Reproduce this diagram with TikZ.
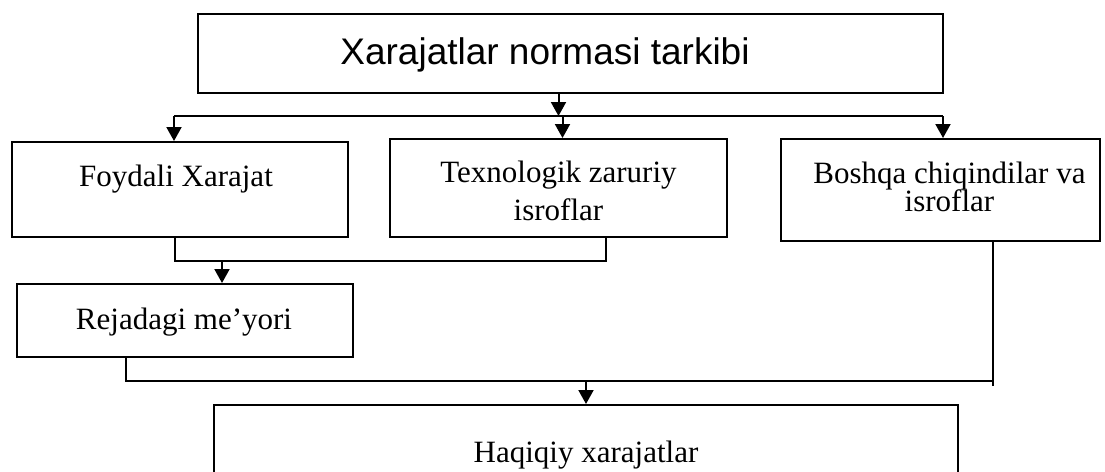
\documentclass[tikz,border=0pt]{standalone}
\usepackage{fontspec}
\setmainfont{Liberation Serif}
\newfontfamily\arialfont{Liberation Sans}
\usetikzlibrary{arrows.meta}

\begin{document}
\begin{tikzpicture}
[
x=0.5pt, y=-0.5pt,
line width=1pt,
box-a/.style={rectangle, draw, inner sep=0pt},
text-a/.style={anchor=base, inner sep=0pt, align=center, font=\fontsize{15.5}{18.6}\selectfont},
text-b/.style={anchor=base, inner sep=0pt, font=\arialfont\fontsize{18.5}{22}\selectfont},
arr/.style={-{Triangle[length=7pt, width=7.5pt]}}
]
\path[use as bounding box, clip] (0,0) rectangle (1105,472);

% boxes
\node (top)        [box-a, minimum width=372.5pt, minimum height=39.5pt] at (570.5,53.5) {};
\node (foydali)    [box-a, minimum width=168pt,   minimum height=47.5pt] at (180,189.5)  {};
\node (texnologik) [box-a, minimum width=168.5pt, minimum height=49pt]   at (558.5,188)  {};
\node (boshqa)     [box-a, minimum width=159.5pt, minimum height=51pt]   at (940.5,190)  {};
\node (rejadagi)   [box-a, minimum width=168pt,   minimum height=36.5pt] at (185,320.5)  {};
\node (haqiqiy)    [box-a, minimum width=372pt,   minimum height=42.5pt] at (586,447.5)  {};

% labels (base = last line)
\node (top-lb)        [text-b] at (545,64)    {Xarajatlar normasi tarkibi};
\node (foydali-lb)    [text-a] at (176,186)   {Foydali Xarajat};
\node (texnologik-lb) [text-a] at (558.5,220) {Texnologik zaruriy\\isroflar};
\node (boshqa-lb)     [text-a, font={\fontsize{15.5}{14}\selectfont\lineskiplimit=-20pt}] at (949.5,211) {Boshqa chiqindilar va\\isroflar};
\node (rejadagi-lb)   [text-a] at (184,329)   {Rejadagi me'yori};
\node (haqiqiy-lb)    [text-a] at (586,462)   {Haqiqiy xarajatlar};

% bus points
\coordinate (bus-l) at (174,116);
\coordinate (bus-r) at (943,116);
\coordinate (mid-l) at (175,261);
\coordinate (mid-r) at (606,261);
\coordinate (mid-a) at (222,261);
\coordinate (low-l) at (126,381);
\coordinate (low-r) at (993,381);

\draw [arr] (top.south -| texnologik.north) -- (texnologik.north |- bus-l);
\draw (bus-l) -- (bus-r);
\draw [arr] (bus-l) -- (bus-l |- foydali.north);
\draw [arr] ([xshift=2pt]texnologik.north |- bus-l) -- ([xshift=2pt]texnologik.north);
\draw [arr] (bus-r) -- (bus-r |- boshqa.north);

\draw (mid-l |- foydali.south) -- (mid-l) -- (mid-r) -- (mid-r |- texnologik.south);
\draw [arr] (mid-a) -- (mid-a |- rejadagi.north);

\draw (low-l |- rejadagi.south) -- (low-l) -- (low-r);
\draw (low-r |- boshqa.south) -- ([yshift=-2.5pt]low-r);
\draw [arr] (haqiqiy.north |- low-l) -- (haqiqiy.north);

\end{tikzpicture}
\end{document}
